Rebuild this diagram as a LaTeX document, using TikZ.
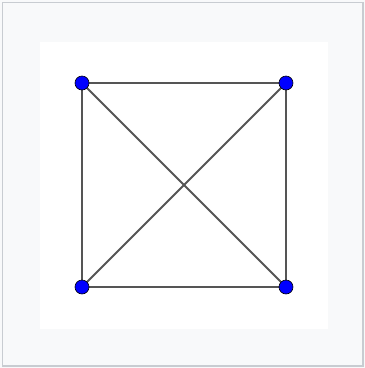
\documentclass[tikz,border=0pt]{standalone}
\usetikzlibrary{backgrounds}
\definecolor{bgc}{HTML}{F8F9FA}
\definecolor{brd}{HTML}{C8CCD1}
\definecolor{edgec}{HTML}{555555}
\pgfdeclarelayer{paper}
\pgfsetlayers{paper,background,main}
\tikzset{
  vtx/.style={circle, fill=blue, draw=black, line width=0.6pt, minimum size=14pt, inner sep=0pt},
  edg/.style={draw=edgec, line width=2pt}
}
\begin{document}
\begin{tikzpicture}[x=1pt,y=-1pt]
\useasboundingbox (0,0) rectangle (365,368);
\begin{pgfonlayer}{paper}
\fill[bgc] (0,0) rectangle (365,368);
\draw[brd, line width=1.2pt] (2.5,2.5) rectangle (363,366);
\fill[white] (40,42) rectangle (328,329);
\end{pgfonlayer}
\node[vtx] (a) at (82,83) {};
\node[vtx] (b) at (286,83) {};
\node[vtx] (c) at (82,287) {};
\node[vtx] (d) at (286,287) {};
\begin{pgfonlayer}{background}
\draw[edg] (a.center) -- (b.center) -- (d.center) -- (c.center) -- cycle;
\draw[edg] (a.center) -- (d.center);
\draw[edg] (b.center) -- (c.center);
\end{pgfonlayer}
\end{tikzpicture}
\end{document}
